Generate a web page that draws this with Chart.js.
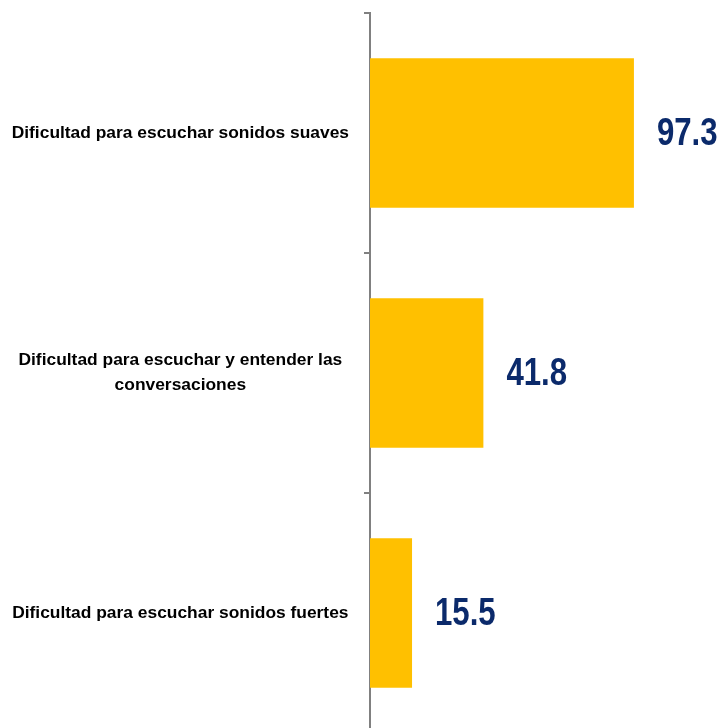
<!DOCTYPE html>
<html>
<head>
<meta charset="utf-8">
<script src="https://cdn.jsdelivr.net/npm/chart.js@4"></script>
<style>
  html, body { margin: 0; padding: 0; background: #fff; overflow: hidden; }
  #wrap { width: 721px; height: 733px; position: relative; }
</style>
</head>
<body>
<div id="wrap"><canvas id="c"></canvas></div>
<script>
const categories = [
  'Dificultad para escuchar sonidos suaves',
  ['Dificultad para escuchar y entender las', 'conversaciones'],
  'Dificultad para escuchar sonidos fuertes'
];
const values = [97.3, 41.8, 15.5];
const valueLabels = ['97.3', '41.8', '15.5'];

const FONT = "'Liberation Sans', Arial, sans-serif";

const valueLabelPlugin = {
  id: 'valueLabels',
  afterDatasetsDraw(chart) {
    const ctx = chart.ctx;
    const meta = chart.getDatasetMeta(0);
    ctx.save();
    ctx.font = 'bold 38px ' + FONT;
    ctx.fillStyle = '#0B2A6B';
    ctx.textAlign = 'left';
    ctx.textBaseline = 'middle';
    meta.data.forEach((bar, i) => {
      ctx.save();
      ctx.translate(bar.x + 23, bar.y + 2);
      ctx.scale(0.82, 1);
      ctx.fillText(valueLabels[i], 0, 0);
      ctx.restore();
    });
    ctx.restore();
  }
};

new Chart(document.getElementById('c'), {
  type: 'bar',
  data: {
    labels: categories,
    datasets: [{
      data: values,
      backgroundColor: '#FFC000',
      borderWidth: 0,
      categoryPercentage: 0.622,
      barPercentage: 1.0
    }]
  },
  options: {
    indexAxis: 'y',
    responsive: true,
    maintainAspectRatio: false,
    animation: false,
    layout: { padding: { top: 13, bottom: 0, left: 0, right: 0 } },
    plugins: {
      legend: { display: false },
      tooltip: { enabled: false }
    },
    scales: {
      x: {
        display: false,
        min: 0,
        max: 129.4
      },
      y: {
        afterFit(scale) {
          scale.width = 370;
          scale.paddingTop = 0;
          scale.paddingBottom = 0;
        },
        border: { display: true, color: '#808080', width: 2 },
        grid: {
          display: true,
          drawOnChartArea: false,
          drawTicks: true,
          tickLength: 6,
          color: '#808080',
          lineWidth: 2,
          offset: true
        },
        ticks: {
          crossAlign: 'center',
          padding: 15,
          color: '#000000',
          font: { family: FONT, size: 17.4, weight: 'bold', lineHeight: 1.45 }
        }
      }
    }
  },
  plugins: [valueLabelPlugin]
});
</script>
</body>
</html>
